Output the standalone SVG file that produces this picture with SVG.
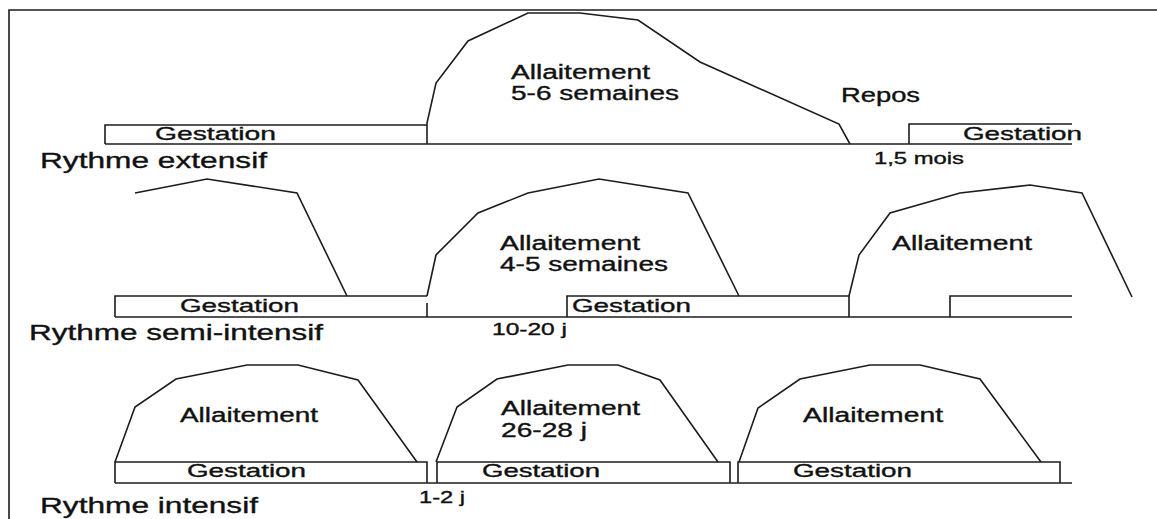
<svg xmlns="http://www.w3.org/2000/svg" width="1157" height="519" viewBox="0 0 1157 519">
<style>
.ln{fill:none;stroke:#1c1c1c;stroke-width:1.6;stroke-linejoin:miter}
text{font-family:"Liberation Sans",Arial,sans-serif;fill:#111;stroke:#111;stroke-width:0.35}
.m{font-size:19.5px}
.g{font-size:18.5px}
.r{font-size:21.5px}
.s{font-size:16.5px}
</style>
<rect width="1157" height="519" fill="#fff"/>
<g id="frame"><polyline class="ln" points="9,519 9,10 1157,10" stroke-width="2"/></g>

<!-- Row 1: Rythme extensif -->
<g id="r1-gestation1">
<polyline class="ln" points="427,125 105,125 105,144"/>
<text class="g" x="155" y="140" textLength="121" lengthAdjust="spacingAndGlyphs">Gestation</text>
</g>
<g id="r1-allaitement">
<polyline class="ln" points="427,144 427,123 436,83 468,41 528,13 580,13 638,20 700,62 839,124 850,144"/>
<text class="m" x="511" y="79" textLength="139" lengthAdjust="spacingAndGlyphs">Allaitement</text>
<text class="m" x="511" y="100" textLength="168" lengthAdjust="spacingAndGlyphs">5-6 semaines</text>
</g>
<g id="r1-repos">
<text class="m" x="841" y="102" textLength="79" lengthAdjust="spacingAndGlyphs">Repos</text>
<text class="s" x="874" y="164" textLength="90" lengthAdjust="spacingAndGlyphs">1,5 mois</text>
</g>
<g id="r1-gestation2">
<polyline class="ln" points="909,144 909,124 1072,124"/>
<text class="g" x="963" y="140" textLength="119" lengthAdjust="spacingAndGlyphs">Gestation</text>
</g>
<g id="r1-base"><line class="ln" x1="105" y1="144" x2="1072" y2="144"/></g>
<g id="r1-label"><text class="r" x="40" y="168" textLength="227" lengthAdjust="spacingAndGlyphs">Rythme extensif</text></g>

<!-- Row 2: Rythme semi-intensif -->
<g id="r2-allaitement0"><polyline class="ln" points="135,193 207,179 297,193 347,296"/></g>
<g id="r2-gestation1">
<polyline class="ln" points="427,296 115,296 115,317"/>
<line class="ln" x1="427" y1="303" x2="427" y2="317"/>
<text class="g" x="180" y="312" textLength="119" lengthAdjust="spacingAndGlyphs">Gestation</text>
</g>
<g id="r2-allaitement1">
<polyline class="ln" points="427,296 436,255 478,213 528,193 599,179 688,193 739,296"/>
<text class="m" x="500" y="250" textLength="140" lengthAdjust="spacingAndGlyphs">Allaitement</text>
<text class="m" x="500" y="271" textLength="168" lengthAdjust="spacingAndGlyphs">4-5 semaines</text>
<text class="s" x="492" y="335" textLength="75" lengthAdjust="spacingAndGlyphs">10-20 j</text>
</g>
<g id="r2-gestation2">
<polyline class="ln" points="567,317 567,296 849,296 849,317"/>
<text class="g" x="572" y="312" textLength="119" lengthAdjust="spacingAndGlyphs">Gestation</text>
</g>
<g id="r2-allaitement2">
<polyline class="ln" points="849,296 859,255 890,213 960,193 1030,185 1082,193 1132,297"/>
<text class="m" x="892" y="250" textLength="140" lengthAdjust="spacingAndGlyphs">Allaitement</text>
</g>
<g id="r2-gestation3"><polyline class="ln" points="950,317 950,296 1072,296"/></g>
<g id="r2-base"><line class="ln" x1="115" y1="317" x2="1072" y2="317"/></g>
<g id="r2-label"><text class="r" x="29" y="340" textLength="294" lengthAdjust="spacingAndGlyphs">Rythme semi-intensif</text></g>

<!-- Row 3: Rythme intensif -->
<g id="r3-cycle1">
<polyline class="ln" points="115,483 115,462 427,462 427,483"/>
<polyline class="ln" points="115,462 135,407 176,379 247,365 298,365 358,380 417,462"/>
<text class="m" x="180" y="422" textLength="138" lengthAdjust="spacingAndGlyphs">Allaitement</text>
<text class="g" x="187" y="477" textLength="119" lengthAdjust="spacingAndGlyphs">Gestation</text>
</g>
<g id="r3-cycle2">
<polyline class="ln" points="437,483 437,462 730,462 730,483"/>
<polyline class="ln" points="436,462 457,407 497,379 568,365 618,365 660,380 718,462"/>
<text class="m" x="501" y="415" textLength="139" lengthAdjust="spacingAndGlyphs">Allaitement</text>
<text class="m" x="501" y="437" textLength="86" lengthAdjust="spacingAndGlyphs">26-28 j</text>
<text class="g" x="482" y="477" textLength="118" lengthAdjust="spacingAndGlyphs">Gestation</text>
</g>
<g id="r3-cycle3">
<polyline class="ln" points="738,483 738,462 1060,462 1060,483"/>
<polyline class="ln" points="739,462 758,408 800,379 870,365 920,365 980,379 1041,462"/>
<text class="m" x="803" y="422" textLength="140" lengthAdjust="spacingAndGlyphs">Allaitement</text>
<text class="g" x="793" y="477" textLength="119" lengthAdjust="spacingAndGlyphs">Gestation</text>
</g>
<g id="r3-base"><line class="ln" x1="115" y1="483" x2="1072" y2="483"/></g>
<g id="r3-gap"><text class="s" x="419" y="503" textLength="46" lengthAdjust="spacingAndGlyphs">1-2 j</text></g>
<g id="r3-label"><text class="r" x="40" y="513" textLength="218" lengthAdjust="spacingAndGlyphs">Rythme intensif</text></g>
</svg>
